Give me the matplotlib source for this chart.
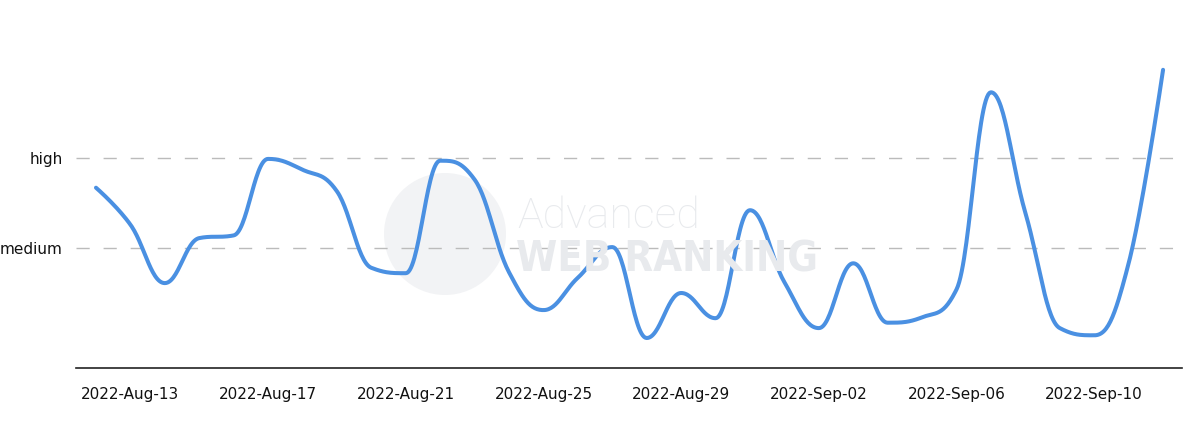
import numpy as np
import matplotlib.pyplot as plt
from matplotlib.patches import Circle
from matplotlib.transforms import IdentityTransform

# daily values, 2022-Aug-12 .. 2022-Sep-12 (low=1, medium=2, high=3)
start_date = np.datetime64('2022-08-12')
values = [2.67, 2.26, 1.61, 2.11, 2.14, 2.99, 2.87, 2.63, 1.78, 1.72,
          2.97, 2.76, 1.73, 1.31, 1.67, 2.01, 1.00, 1.50, 1.22, 2.42,
          1.62, 1.11, 1.83, 1.17, 1.23, 1.54, 3.73, 2.39, 1.11, 1.03,
          1.83, 3.98]
level_values = [2, 3]
level_labels = ['medium', 'high']
tick_dates = ['2022-08-13', '2022-08-17', '2022-08-21', '2022-08-25',
              '2022-08-29', '2022-09-02', '2022-09-06', '2022-09-10']
tick_labels = ['2022-Aug-13', '2022-Aug-17', '2022-Aug-21', '2022-Aug-25',
               '2022-Aug-29', '2022-Sep-02', '2022-Sep-06', '2022-Sep-10']


def spline_path(x, y, smoothing=1.5, n=30):
    # bezier spline through the points, same control-point rule as highcharts
    x = np.asarray(x, dtype=float)
    y = np.asarray(y, dtype=float)
    denom = smoothing + 1
    m = len(x)
    lcx, lcy = x.copy(), y.copy()
    rcx, rcy = x.copy(), y.copy()
    for i in range(1, m - 1):
        lx, ly, nx, ny = x[i - 1], y[i - 1], x[i + 1], y[i + 1]
        lcx[i] = (smoothing * x[i] + lx) / denom
        lcy[i] = (smoothing * y[i] + ly) / denom
        rcx[i] = (smoothing * x[i] + nx) / denom
        rcy[i] = (smoothing * y[i] + ny) / denom
        corr = (rcy[i] - lcy[i]) * (rcx[i] - x[i]) / (rcx[i] - lcx[i]) + y[i] - rcy[i]
        lcy[i] += corr
        rcy[i] += corr
        if lcy[i] > ly and lcy[i] > y[i]:
            lcy[i] = max(ly, y[i])
            rcy[i] = 2 * y[i] - lcy[i]
        elif lcy[i] < ly and lcy[i] < y[i]:
            lcy[i] = min(ly, y[i])
            rcy[i] = 2 * y[i] - lcy[i]
        if rcy[i] > ny and rcy[i] > y[i]:
            rcy[i] = max(ny, y[i])
            lcy[i] = 2 * y[i] - rcy[i]
        elif rcy[i] < ny and rcy[i] < y[i]:
            rcy[i] = min(ny, y[i])
            lcy[i] = 2 * y[i] - rcy[i]
    t = np.linspace(0, 1, n, endpoint=False)[:, None]
    pts = []
    for i in range(m - 1):
        p0 = np.array([x[i], y[i]])
        p1 = np.array([rcx[i], rcy[i]])
        p2 = np.array([lcx[i + 1], lcy[i + 1]])
        p3 = np.array([x[i + 1], y[i + 1]])
        b = ((1 - t) ** 3 * p0 + 3 * (1 - t) ** 2 * t * p1
             + 3 * (1 - t) * t ** 2 * p2 + t ** 3 * p3)
        pts.append(b)
    pts.append(np.array([[x[-1], y[-1]]]))
    pts = np.vstack(pts)
    return pts[:, 0], pts[:, 1]


fig = plt.figure(figsize=(12, 4.29), dpi=100)
ax = fig.add_axes([76 / 1200, 1 - 368 / 429, (1182 - 76) / 1200, (368 - 20) / 429])

# watermark
fig.add_artist(Circle((445, 429 - 234), 61, transform=IdentityTransform(),
                      facecolor='#f2f3f5', edgecolor='none', zorder=0))
fig.text(517 / 1200, 1 - 228 / 429, 'Advanced', fontsize=31, color='#e8eaed',
         family='Roboto', fontweight='light', zorder=0)
fig.text(516 / 1200, 1 - 272 / 429, 'WEB RANKING', fontsize=30, color='#e8eaed',
         family='DejaVu Sans', fontweight='bold', fontstretch='condensed', zorder=0)
ax.patch.set_alpha(0)

x_days = np.arange(len(values))
sx, sy = spline_path(x_days, values)
ax.plot(sx, sy, color='#4a90e2', linewidth=2.9, solid_capstyle='round', zorder=3)

for lv in level_values:
    ax.axhline(lv, color='#bbbbbb', linewidth=1, linestyle=(0, (9.5, 10)), zorder=1)

tick_pos = [(np.datetime64(d) - start_date).astype(int) for d in tick_dates]
ax.set_xticks(tick_pos)
ax.set_xticklabels(tick_labels, fontsize=11, color='#111111')
ax.set_yticks(level_values)
ax.set_yticklabels(level_labels, fontsize=11, color='#111111')
ax.tick_params(axis='both', length=0)
ax.tick_params(axis='x', pad=14)
ax.tick_params(axis='y', pad=9.5)

ax.set_xlim(-0.58, len(values) - 1 + 0.55)
ax.set_ylim(2 + (248 - 368) / 90, 2 + (248 - 20) / 90)

for side in ['top', 'right', 'left']:
    ax.spines[side].set_visible(False)
ax.spines['bottom'].set_color('#222222')
ax.spines['bottom'].set_linewidth(1.2)

fig.savefig('out.png', dpi=100)
